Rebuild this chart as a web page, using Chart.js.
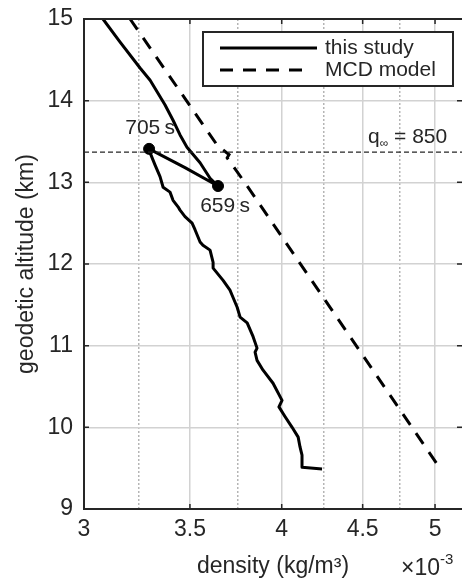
<!DOCTYPE html>
<html>
<head>
<meta charset="utf-8">
<script src="https://cdn.jsdelivr.net/npm/chart.js@4.4.0/dist/chart.umd.min.js"></script>
<style>
  html, body { margin: 0; padding: 0; background: #fff; }
  canvas { display: block; }
</style>
</head>
<body>
<canvas id="densityChart" width="462" height="581"></canvas>
<script>
// density in 1e-3 kg/m3, altitude in km
const studyDensity = [3.084, 3.161, 3.255, 3.303, 3.375, 3.415, 3.450, 3.485, 3.552, 3.604, 3.646,
  3.475, 3.298,
  3.303, 3.327, 3.351, 3.366, 3.400, 3.415, 3.440, 3.450, 3.475, 3.511, 3.526, 3.552, 3.567, 3.604,
  3.620, 3.620, 3.673, 3.710, 3.721, 3.749, 3.765, 3.804, 3.837, 3.859, 3.848, 3.859, 3.893, 3.950,
  4.002, 3.984, 4.020, 4.061, 4.097, 4.108, 4.120, 4.120, 4.242];
const studyAltitude = [15.00, 14.72, 14.40, 14.25, 13.95, 13.76, 13.58, 13.43, 13.24, 13.05, 12.955,
  13.18, 13.41,
  13.36, 13.21, 13.07, 12.94, 12.88, 12.78, 12.70, 12.66, 12.58, 12.50, 12.42, 12.27, 12.23, 12.17,
  12.02, 11.95, 11.80, 11.68, 11.62, 11.47, 11.35, 11.28, 11.11, 10.97, 10.92, 10.82, 10.70, 10.54,
  10.33, 10.25, 10.13, 10.00, 9.88, 9.76, 9.66, 9.51, 9.49];

const mcdDensity = [3.208, 3.643, 3.705, 3.695, 3.790, 5.015];
const mcdAltitude = [15.00, 13.45, 13.34, 13.30, 13.00, 9.55];

const markerDensity = [3.298, 3.646];
const markerAltitude = [13.41, 12.955];
const markerLabels = ['705\u2009s', '659\u2009s'];

const qAltitude = 13.37;
const qValue = '850';

const xMin = 3, xMax = 5.2;
const xTicks = [3, 3.5, 4, 4.5, 5];
const xMinorTicks = [3.25, 3.75, 4.25, 4.75];
const yTicks = [9, 10, 11, 12, 13, 14, 15];

const seriesLabels = ['this study', 'MCD model'];

const textColor = '#262626';
const fontFamily = '"Liberation Sans", Arial, Helvetica, sans-serif';
Chart.defaults.font.family = fontFamily;
Chart.defaults.color = textColor;

function toPoints(xs, ys) {
  return xs.map((v, i) => ({ x: v, y: ys[i] }));
}

function noPad(s) {
  s.paddingLeft = 0; s.paddingRight = 0;
  s.paddingTop = 0; s.paddingBottom = 0;
}

// box, inward ticks, annotations and the boxed legend
const overlay = {
  id: 'overlay',
  afterDraw(chart) {
    const { ctx, chartArea: a, scales: { x, y } } = chart;
    ctx.save();

    ctx.strokeStyle = textColor;
    ctx.lineWidth = 2;
    ctx.beginPath();
    ctx.moveTo(a.right, a.top);
    ctx.lineTo(a.left, a.top);
    ctx.lineTo(a.left, a.bottom);
    ctx.lineTo(a.right, a.bottom);
    ctx.stroke();

    ctx.lineWidth = 1.5;
    ctx.beginPath();
    xTicks.forEach(v => {
      const px = x.getPixelForValue(v);
      ctx.moveTo(px, a.bottom); ctx.lineTo(px, a.bottom - 5);
      ctx.moveTo(px, a.top); ctx.lineTo(px, a.top + 5);
    });
    yTicks.forEach(v => {
      const py = y.getPixelForValue(v);
      ctx.moveTo(a.left, py); ctx.lineTo(a.left + 5, py);
      ctx.moveTo(a.right, py); ctx.lineTo(a.right - 5, py);
    });
    ctx.stroke();

    // time labels next to the markers
    ctx.fillStyle = textColor;
    ctx.font = '21px ' + fontFamily;
    ctx.textAlign = 'center';
    ctx.textBaseline = 'middle';
    markerLabels.forEach((t, i) => {
      const px = x.getPixelForValue(markerDensity[i]);
      const py = y.getPixelForValue(markerAltitude[i]);
      if (i === 0) ctx.fillText(t, px + 1, py - 21);
      else ctx.fillText(t, px + 7, py + 20);
    });

    // q_inf label
    ctx.textAlign = 'left';
    ctx.textBaseline = 'alphabetic';
    const qy = y.getPixelForValue(qAltitude) - 9;
    let qx = a.right - 94;
    ctx.font = '21px ' + fontFamily;
    ctx.fillText('q', qx, qy);
    qx += ctx.measureText('q').width;
    ctx.font = '12px ' + fontFamily;
    ctx.fillText('\u221e', qx, qy + 4);
    qx += ctx.measureText('\u221e').width;
    ctx.font = '21px ' + fontFamily;
    ctx.fillText(' = ' + qValue, qx, qy);

    // axis multiplier
    const ex = a.right - 61, ey = a.bottom + 66;
    ctx.font = '23px ' + fontFamily;
    ctx.fillText('\u00d710', ex, ey);
    const ew = ctx.measureText('\u00d710').width;
    ctx.font = '15px ' + fontFamily;
    ctx.fillText('-3', ex + ew, ey - 11);

    // legend
    const lx = a.right - 259, ly = a.top + 13, lw = 250, lh = 54;
    ctx.fillStyle = '#fff';
    ctx.fillRect(lx, ly, lw, lh);
    ctx.strokeStyle = textColor;
    ctx.lineWidth = 2;
    ctx.strokeRect(lx, ly, lw, lh);
    const rows = [
      { label: seriesLabels[0], dash: [], len: 97, yOff: 16 },
      { label: seriesLabels[1], dash: [13, 10], len: 82, yOff: 38 }
    ];
    ctx.font = '21px ' + fontFamily;
    ctx.textBaseline = 'middle';
    ctx.fillStyle = textColor;
    rows.forEach(r => {
      ctx.save();
      ctx.strokeStyle = '#000';
      ctx.lineWidth = 3;
      ctx.setLineDash(r.dash);
      ctx.beginPath();
      ctx.moveTo(lx + 17, ly + r.yOff);
      ctx.lineTo(lx + 17 + r.len, ly + r.yOff);
      ctx.stroke();
      ctx.restore();
      ctx.fillText(r.label, lx + 122, ly + r.yOff);
    });

    ctx.restore();
  }
};

const ctx = document.getElementById('densityChart').getContext('2d');
new Chart(ctx, {
  type: 'scatter',
  data: {
    datasets: [
      {
        label: 'q',
        data: [{ x: xMin, y: qAltitude }, { x: xMax, y: qAltitude }],
        showLine: true,
        borderColor: textColor,
        borderWidth: 1.4,
        borderDash: [5, 3],
        pointRadius: 0
      },
      {
        label: seriesLabels[1],
        data: toPoints(mcdDensity, mcdAltitude),
        showLine: true,
        borderColor: '#000',
        borderWidth: 3,
        borderDash: [13, 10],
        pointRadius: 0
      },
      {
        label: seriesLabels[0],
        data: toPoints(studyDensity, studyAltitude),
        showLine: true,
        borderColor: '#000',
        borderWidth: 3,
        borderJoinStyle: 'round',
        pointRadius: 0
      },
      {
        label: 'markers',
        data: toPoints(markerDensity, markerAltitude),
        showLine: false,
        backgroundColor: '#000',
        borderColor: '#000',
        pointRadius: 5.5
      }
    ]
  },
  options: {
    responsive: false,
    devicePixelRatio: 1,
    animation: false,
    layout: { autoPadding: false, padding: { top: 19, right: 0, bottom: 0, left: 0 } },
    plugins: {
      legend: { display: false },
      tooltip: { enabled: false }
    },
    scales: {
      x: {
        type: 'logarithmic',
        position: 'bottom',
        min: xMin,
        max: xMax,
        afterBuildTicks: s => { s.ticks = xTicks.map(v => ({ value: v })); },
        afterFit: s => { s.height = 72; noPad(s); },
        ticks: {
          callback: v => String(v),
          font: { size: 23 },
          color: textColor,
          padding: 7,
          maxRotation: 0,
          autoSkip: false
        },
        grid: { color: '#d2d2d2', lineWidth: 1.5, drawTicks: false },
        border: { display: false },
        title: {
          display: true,
          text: 'density (kg/m\u00b3)',
          font: { size: 23 },
          color: textColor,
          padding: { top: 0, bottom: 1 }
        }
      },
      xMinor: {
        type: 'logarithmic',
        position: 'bottom',
        min: xMin,
        max: xMax,
        afterBuildTicks: s => { s.ticks = xMinorTicks.map(v => ({ value: v })); },
        afterFit: s => { s.height = 0; noPad(s); },
        ticks: { display: false },
        grid: { color: '#b5b5b5', lineWidth: 1.5, drawTicks: false },
        border: { display: false, dash: [2, 2] }
      },
      y: {
        type: 'linear',
        min: 9,
        max: 15,
        afterFit: s => { s.width = 84; noPad(s); },
        ticks: {
          stepSize: 1,
          font: { size: 23 },
          color: textColor,
          padding: 11
        },
        grid: { color: '#d2d2d2', lineWidth: 1.5, drawTicks: false },
        border: { display: false },
        title: {
          display: true,
          text: 'geodetic altitude (km)',
          font: { size: 23 },
          color: textColor,
          padding: { top: 13, bottom: 0 }
        }
      }
    }
  },
  plugins: [overlay]
});
</script>
</body>
</html>
